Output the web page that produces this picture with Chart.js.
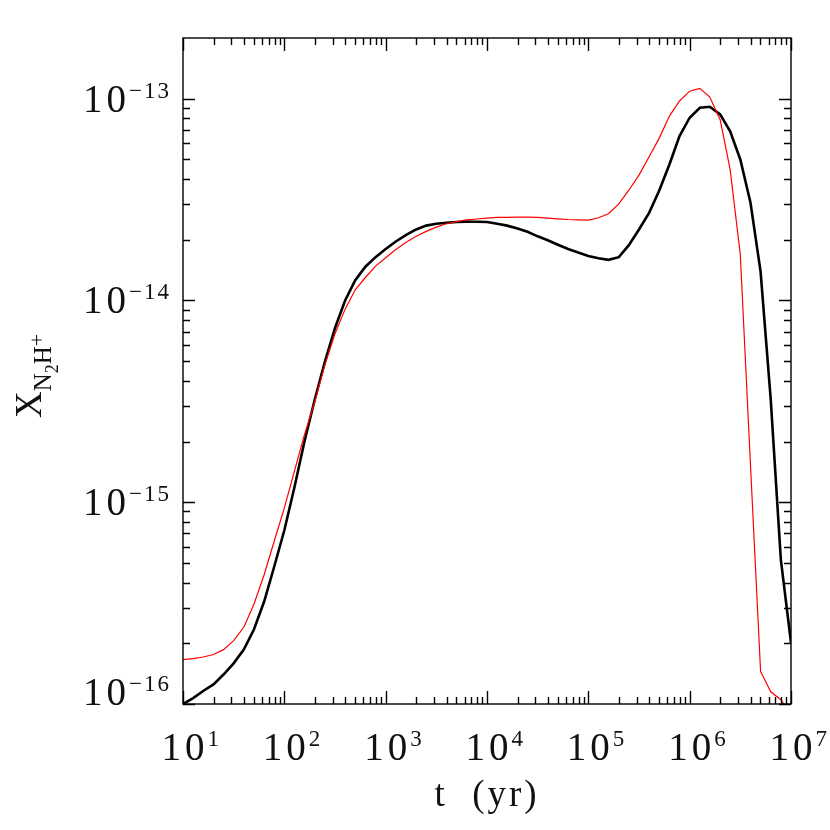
<!DOCTYPE html>
<html>
<head>
<meta charset="UTF-8">
<title>N2H+ abundance vs time</title>
<script src="https://cdn.jsdelivr.net/npm/chart.js"></script>
<style>
  body { margin: 0; background: #fff; }
  #wrap { width: 830px; height: 830px; }
</style>
</head>
<body>
<div id="wrap"><canvas id="chart" width="830" height="830"></canvas></div>
<script>
// time grid (yr), 0.1 dex steps
const times = [
  1e1, 1.26e1, 1.58e1, 2e1, 2.51e1, 3.16e1, 3.98e1, 5.01e1, 6.31e1, 7.94e1,
  1e2, 1.26e2, 1.58e2, 2e2, 2.51e2, 3.16e2, 3.98e2, 5.01e2, 6.31e2, 7.94e2,
  1e3, 1.26e3, 1.58e3, 2e3, 2.51e3, 3.16e3, 3.98e3, 5.01e3, 6.31e3, 7.94e3,
  1e4, 1.26e4, 1.58e4, 2e4, 2.51e4, 3.16e4, 3.98e4, 5.01e4, 6.31e4, 7.94e4,
  1e5, 1.26e5, 1.58e5, 2e5, 2.51e5, 3.16e5, 3.98e5, 5.01e5, 6.31e5, 7.94e5,
  1e6, 1.26e6, 1.58e6, 2e6, 2.51e6, 3.16e6, 3.98e6, 5.01e6, 6.31e6, 7.94e6,
  1e7
];

// black curve
const blackX = [
  1.00e-16, 1.07e-16, 1.16e-16, 1.25e-16, 1.40e-16, 1.59e-16, 1.86e-16, 2.34e-16, 3.21e-16, 4.79e-16,
  7.26e-16, 1.19e-15, 2.00e-15, 3.24e-15, 4.96e-15, 7.30e-15, 1.00e-14, 1.26e-14, 1.47e-14, 1.64e-14,
  1.80e-14, 1.96e-14, 2.11e-14, 2.25e-14, 2.35e-14, 2.40e-14, 2.43e-14, 2.45e-14, 2.46e-14, 2.455e-14,
  2.45e-14, 2.40e-14, 2.35e-14, 2.275e-14, 2.19e-14, 2.08e-14, 1.99e-14, 1.89e-14, 1.80e-14, 1.73e-14,
  1.66e-14, 1.62e-14, 1.59e-14, 1.64e-14, 1.88e-14, 2.25e-14, 2.72e-14, 3.51e-14, 4.72e-14, 6.53e-14,
  8.05e-14, 9.02e-14, 9.12e-14, 8.36e-14, 6.90e-14, 5.00e-14, 3.06e-14, 1.39e-14, 3.23e-15, 5.20e-16,
  2.01e-16
];

// red curve
const redX = [
  1.66e-16, 1.68e-16, 1.71e-16, 1.76e-16, 1.86e-16, 2.06e-16, 2.40e-16, 3.12e-16, 4.36e-16, 6.41e-16,
  9.38e-16, 1.43e-15, 2.16e-15, 3.16e-15, 4.78e-15, 6.84e-15, 9.06e-15, 1.13e-14, 1.30e-14, 1.48e-14,
  1.63e-14, 1.79e-14, 1.94e-14, 2.08e-14, 2.20e-14, 2.31e-14, 2.40e-14, 2.46e-14, 2.51e-14, 2.535e-14,
  2.56e-14, 2.58e-14, 2.58e-14, 2.59e-14, 2.59e-14, 2.58e-14, 2.56e-14, 2.54e-14, 2.52e-14, 2.51e-14,
  2.50e-14, 2.57e-14, 2.69e-14, 3.01e-14, 3.52e-14, 4.18e-14, 5.16e-14, 6.38e-14, 8.20e-14, 9.75e-14,
  1.09e-13, 1.125e-13, 1.02e-13, 7.87e-14, 4.45e-14, 1.69e-14, 1.54e-15, 1.45e-16, 1.15e-16, 1.05e-16,
  8.83e-17
];

const xTickExps = [1, 2, 3, 4, 5, 6, 7];
const yTickExps = [-13, -14, -15, -16];

const FONT = '"Liberation Serif", "DejaVu Serif", serif';
const BASE_SP = 4;

function pts(ys) {
  return times.map((t, i) => ({ x: t, y: ys[i] }));
}

// "10" plus a raised exponent; mode 'center' centres the "10" on x, 'right' ends the label at x
function drawPow(ctx, exp, x, y, mode) {
  ctx.font = '39px ' + FONT;
  ctx.letterSpacing = BASE_SP + 'px';
  const wb = ctx.measureText('10').width - BASE_SP;
  ctx.font = '23px ' + FONT;
  ctx.letterSpacing = '2px';
  const es = String(exp).replace('-', '\u2212');
  const we = ctx.measureText(es).width;
  const x0 = mode === 'right' ? x - wb - we - 3 : x - wb / 2;
  ctx.font = '39px ' + FONT;
  ctx.letterSpacing = BASE_SP + 'px';
  ctx.fillText('10', x0, y);
  ctx.font = '23px ' + FONT;
  ctx.letterSpacing = '2px';
  ctx.fillText(es, x0 + wb + 3, y - 14);
}

const framePlugin = {
  id: 'frame',
  afterDraw(chart) {
    const ctx = chart.ctx;
    const a = chart.chartArea;
    const xs = chart.scales.x, ys = chart.scales.y;
    ctx.save();
    ctx.strokeStyle = '#000';
    ctx.lineWidth = 1.4;
    ctx.strokeRect(a.left, a.top, a.right - a.left, a.bottom - a.top);

    ctx.beginPath();
    // x ticks, bottom and top
    for (let e = 1; e <= 7; e++) {
      for (let m = 1; m <= 9; m++) {
        const v = m * Math.pow(10, e);
        if (v > xs.max * 1.0001) break;
        const px = Math.round(xs.getPixelForValue(v)) + 0.5;
        const len = m === 1 ? 13 : 7;
        ctx.moveTo(px, a.bottom); ctx.lineTo(px, a.bottom - len);
        ctx.moveTo(px, a.top); ctx.lineTo(px, a.top + len);
      }
    }
    // y ticks, left and right
    for (let e = -16; e <= -13; e++) {
      for (let m = 1; m <= 9; m++) {
        const v = m * Math.pow(10, e);
        if (v > ys.max * 0.9999) break;
        const py = Math.round(ys.getPixelForValue(v)) + 0.5;
        const len = m === 1 ? 12 : 7;
        ctx.moveTo(a.left, py); ctx.lineTo(a.left + len, py);
        ctx.moveTo(a.right, py); ctx.lineTo(a.right - len, py);
      }
    }
    ctx.stroke();

    ctx.fillStyle = '#111';
    ctx.textBaseline = 'alphabetic';
    ctx.textAlign = 'left';
    xTickExps.forEach(e => {
      drawPow(ctx, e, xs.getPixelForValue(Math.pow(10, e)), a.bottom + 56, 'center');
    });
    yTickExps.forEach(e => {
      const py = ys.getPixelForValue(Math.pow(10, e));
      const base = e === -16 ? py + 1 : py + 13;
      drawPow(ctx, e, a.left - 12, base, 'right');
    });

    // x title
    ctx.font = '37px ' + FONT;
    ctx.letterSpacing = '3px';
    ctx.textAlign = 'center';
    ctx.fillText('t  (yr)', (a.left + a.right) / 2, 806);

    // y title, rotated
    ctx.textAlign = 'left';
    ctx.translate(41, 418);
    ctx.rotate(-Math.PI / 2);
    let cx = 0;
    ctx.letterSpacing = '0px';
    ctx.font = '37px ' + FONT;
    ctx.fillText('X', cx, 0);
    cx += ctx.measureText('X').width;
    ctx.font = '25px ' + FONT;
    ctx.fillText('N', cx, 10);
    cx += ctx.measureText('N').width;
    ctx.font = '18px ' + FONT;
    ctx.fillText('2', cx, 17);
    cx += ctx.measureText('2').width;
    ctx.font = '25px ' + FONT;
    ctx.fillText('H', cx, 10);
    cx += ctx.measureText('H').width;
    ctx.font = '22px ' + FONT;
    ctx.fillText('+', cx, 3);
    ctx.restore();
  }
};

new Chart(document.getElementById('chart'), {
  type: 'scatter',
  data: {
    datasets: [
      { label: 'red', data: pts(redX), showLine: true, borderColor: '#ff0000', borderWidth: 1.2, pointRadius: 0, tension: 0 },
      { label: 'black', data: pts(blackX), showLine: true, borderColor: '#000000', borderWidth: 2.6, pointRadius: 0, tension: 0 }
    ]
  },
  options: {
    responsive: false,
    animation: false,
    layout: { padding: { left: 183, top: 38, right: 39, bottom: 126 } },
    plugins: { legend: { display: false }, tooltip: { enabled: false } },
    scales: {
      x: { type: 'logarithmic', min: 1e1, max: 1e7, display: false },
      y: { type: 'logarithmic', min: 1e-16, max: 2e-13, display: false }
    }
  },
  plugins: [framePlugin]
});
</script>
</body>
</html>
